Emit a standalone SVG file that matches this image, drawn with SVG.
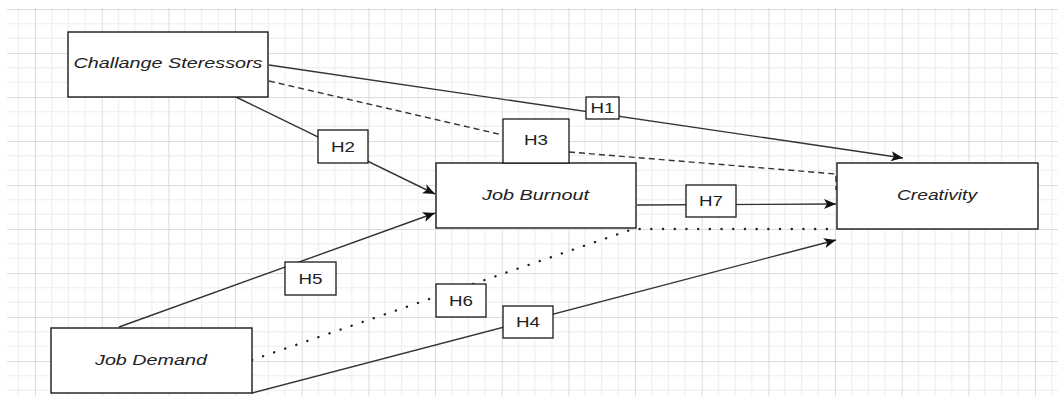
<svg xmlns="http://www.w3.org/2000/svg" width="1058" height="398" viewBox="0 0 1058 398">
  <style>
    .node { fill: #ffffff; stroke: #1a1a1a; stroke-width: 1.4; }
    .lbl { fill: #ffffff; stroke: #1a1a1a; stroke-width: 1.3; }
    .ntext { font-family: "Liberation Sans", Arial, sans-serif; font-style: italic; font-size: 14px; fill: #222; }
    .ltext { font-family: "Liberation Sans", Arial, sans-serif; font-size: 14px; fill: #222; }
    .edge { fill: none; stroke: #333; stroke-width: 1.4; }
    .dash { stroke-dasharray: 6 4; }
    .dot { stroke-width: 2.4; stroke-dasharray: 0.1 11.6; stroke-linecap: round; stroke: #222; }
  </style>
  <defs>
    <pattern id="grid" x="35" y="9" width="66.667" height="44" patternUnits="userSpaceOnUse">
      <g stroke="#ececec" stroke-width="1">
        <line x1="16.667" y1="0" x2="16.667" y2="44"/>
        <line x1="33.333" y1="0" x2="33.333" y2="44"/>
        <line x1="50" y1="0" x2="50" y2="44"/>
        <line x1="0" y1="14.667" x2="66.667" y2="14.667"/>
        <line x1="0" y1="29.333" x2="66.667" y2="29.333"/>
      </g>
      <g stroke="#dcdcdc" stroke-width="1">
        <line x1="0.5" y1="0" x2="0.5" y2="44"/>
        <line x1="0" y1="0.5" x2="66.667" y2="0.5"/>
      </g>
    </pattern>
    <marker id="arrow" markerUnits="userSpaceOnUse" markerWidth="14" markerHeight="12" refX="12" refY="5" orient="auto">
      <path d="M0,0 L12,5 L0,10 L3,5 Z" fill="#111"/>
    </marker>
  </defs>

  <rect x="0" y="0" width="1058" height="398" fill="#ffffff"/>
  <rect x="7" y="8" width="1051" height="388" fill="url(#grid)"/>

  <g id="connectors">
    <line id="e-h1" class="edge" x1="269" y1="65" x2="903" y2="158" marker-end="url(#arrow)"/>
    <line id="e-h2" class="edge" x1="236" y1="97" x2="435" y2="194" marker-end="url(#arrow)"/>
    <line id="e-h5" class="edge" x1="119" y1="327" x2="435" y2="213" marker-end="url(#arrow)"/>
    <line id="e-h4" class="edge" x1="252" y1="393" x2="836" y2="240" marker-end="url(#arrow)"/>
    <line id="e-h7" class="edge" x1="637" y1="205" x2="836" y2="204" marker-end="url(#arrow)"/>
    <path id="e-h3" class="edge dash" d="M269,81 L503,135 M569,152 L836,174 L836,190"/>
    <path id="e-h6" class="edge dot" d="M252,360 L633,229 L836,229"/>
  </g>

  <g id="node-challange">
    <rect class="node" x="68" y="32" width="200" height="65"/>
    <text class="ntext" x="168" y="68" text-anchor="middle" textLength="189" lengthAdjust="spacingAndGlyphs">Challange Steressors</text>
  </g>
  <g id="node-burnout">
    <rect class="node" x="436" y="163" width="200" height="65"/>
    <text class="ntext" x="535.5" y="200" text-anchor="middle" textLength="107" lengthAdjust="spacingAndGlyphs">Job Burnout</text>
  </g>
  <g id="node-creativity">
    <rect class="node" x="837" y="163" width="201" height="66"/>
    <text class="ntext" x="937" y="200" text-anchor="middle" textLength="80" lengthAdjust="spacingAndGlyphs">Creativity</text>
  </g>
  <g id="node-demand">
    <rect class="node" x="51" y="328" width="201" height="65"/>
    <text class="ntext" x="151" y="365" text-anchor="middle" textLength="112" lengthAdjust="spacingAndGlyphs">Job Demand</text>
  </g>

  <g id="label-h1">
    <rect class="lbl" x="586" y="97" width="33" height="22"/>
    <text class="ltext" x="602.5" y="113" text-anchor="middle" textLength="24" lengthAdjust="spacingAndGlyphs">H1</text>
  </g>
  <g id="label-h2">
    <rect class="lbl" x="318" y="130" width="50" height="33"/>
    <text class="ltext" x="343" y="151.5" text-anchor="middle" textLength="24" lengthAdjust="spacingAndGlyphs">H2</text>
  </g>
  <g id="label-h3">
    <rect class="lbl" x="503" y="119" width="66" height="44"/>
    <text class="ltext" x="536" y="145" text-anchor="middle" textLength="24" lengthAdjust="spacingAndGlyphs">H3</text>
  </g>
  <g id="label-h7">
    <rect class="lbl" x="686" y="185" width="50" height="32"/>
    <text class="ltext" x="711" y="206" text-anchor="middle" textLength="24" lengthAdjust="spacingAndGlyphs">H7</text>
  </g>
  <g id="label-h5">
    <rect class="lbl" x="285" y="262" width="51" height="33"/>
    <text class="ltext" x="310.5" y="283.5" text-anchor="middle" textLength="24" lengthAdjust="spacingAndGlyphs">H5</text>
  </g>
  <g id="label-h6">
    <rect class="lbl" x="436" y="284" width="50" height="33"/>
    <text class="ltext" x="461" y="305.5" text-anchor="middle" textLength="24" lengthAdjust="spacingAndGlyphs">H6</text>
  </g>
  <g id="label-h4">
    <rect class="lbl" x="503" y="306" width="50" height="32"/>
    <text class="ltext" x="528" y="327" text-anchor="middle" textLength="24" lengthAdjust="spacingAndGlyphs">H4</text>
  </g>
</svg>
